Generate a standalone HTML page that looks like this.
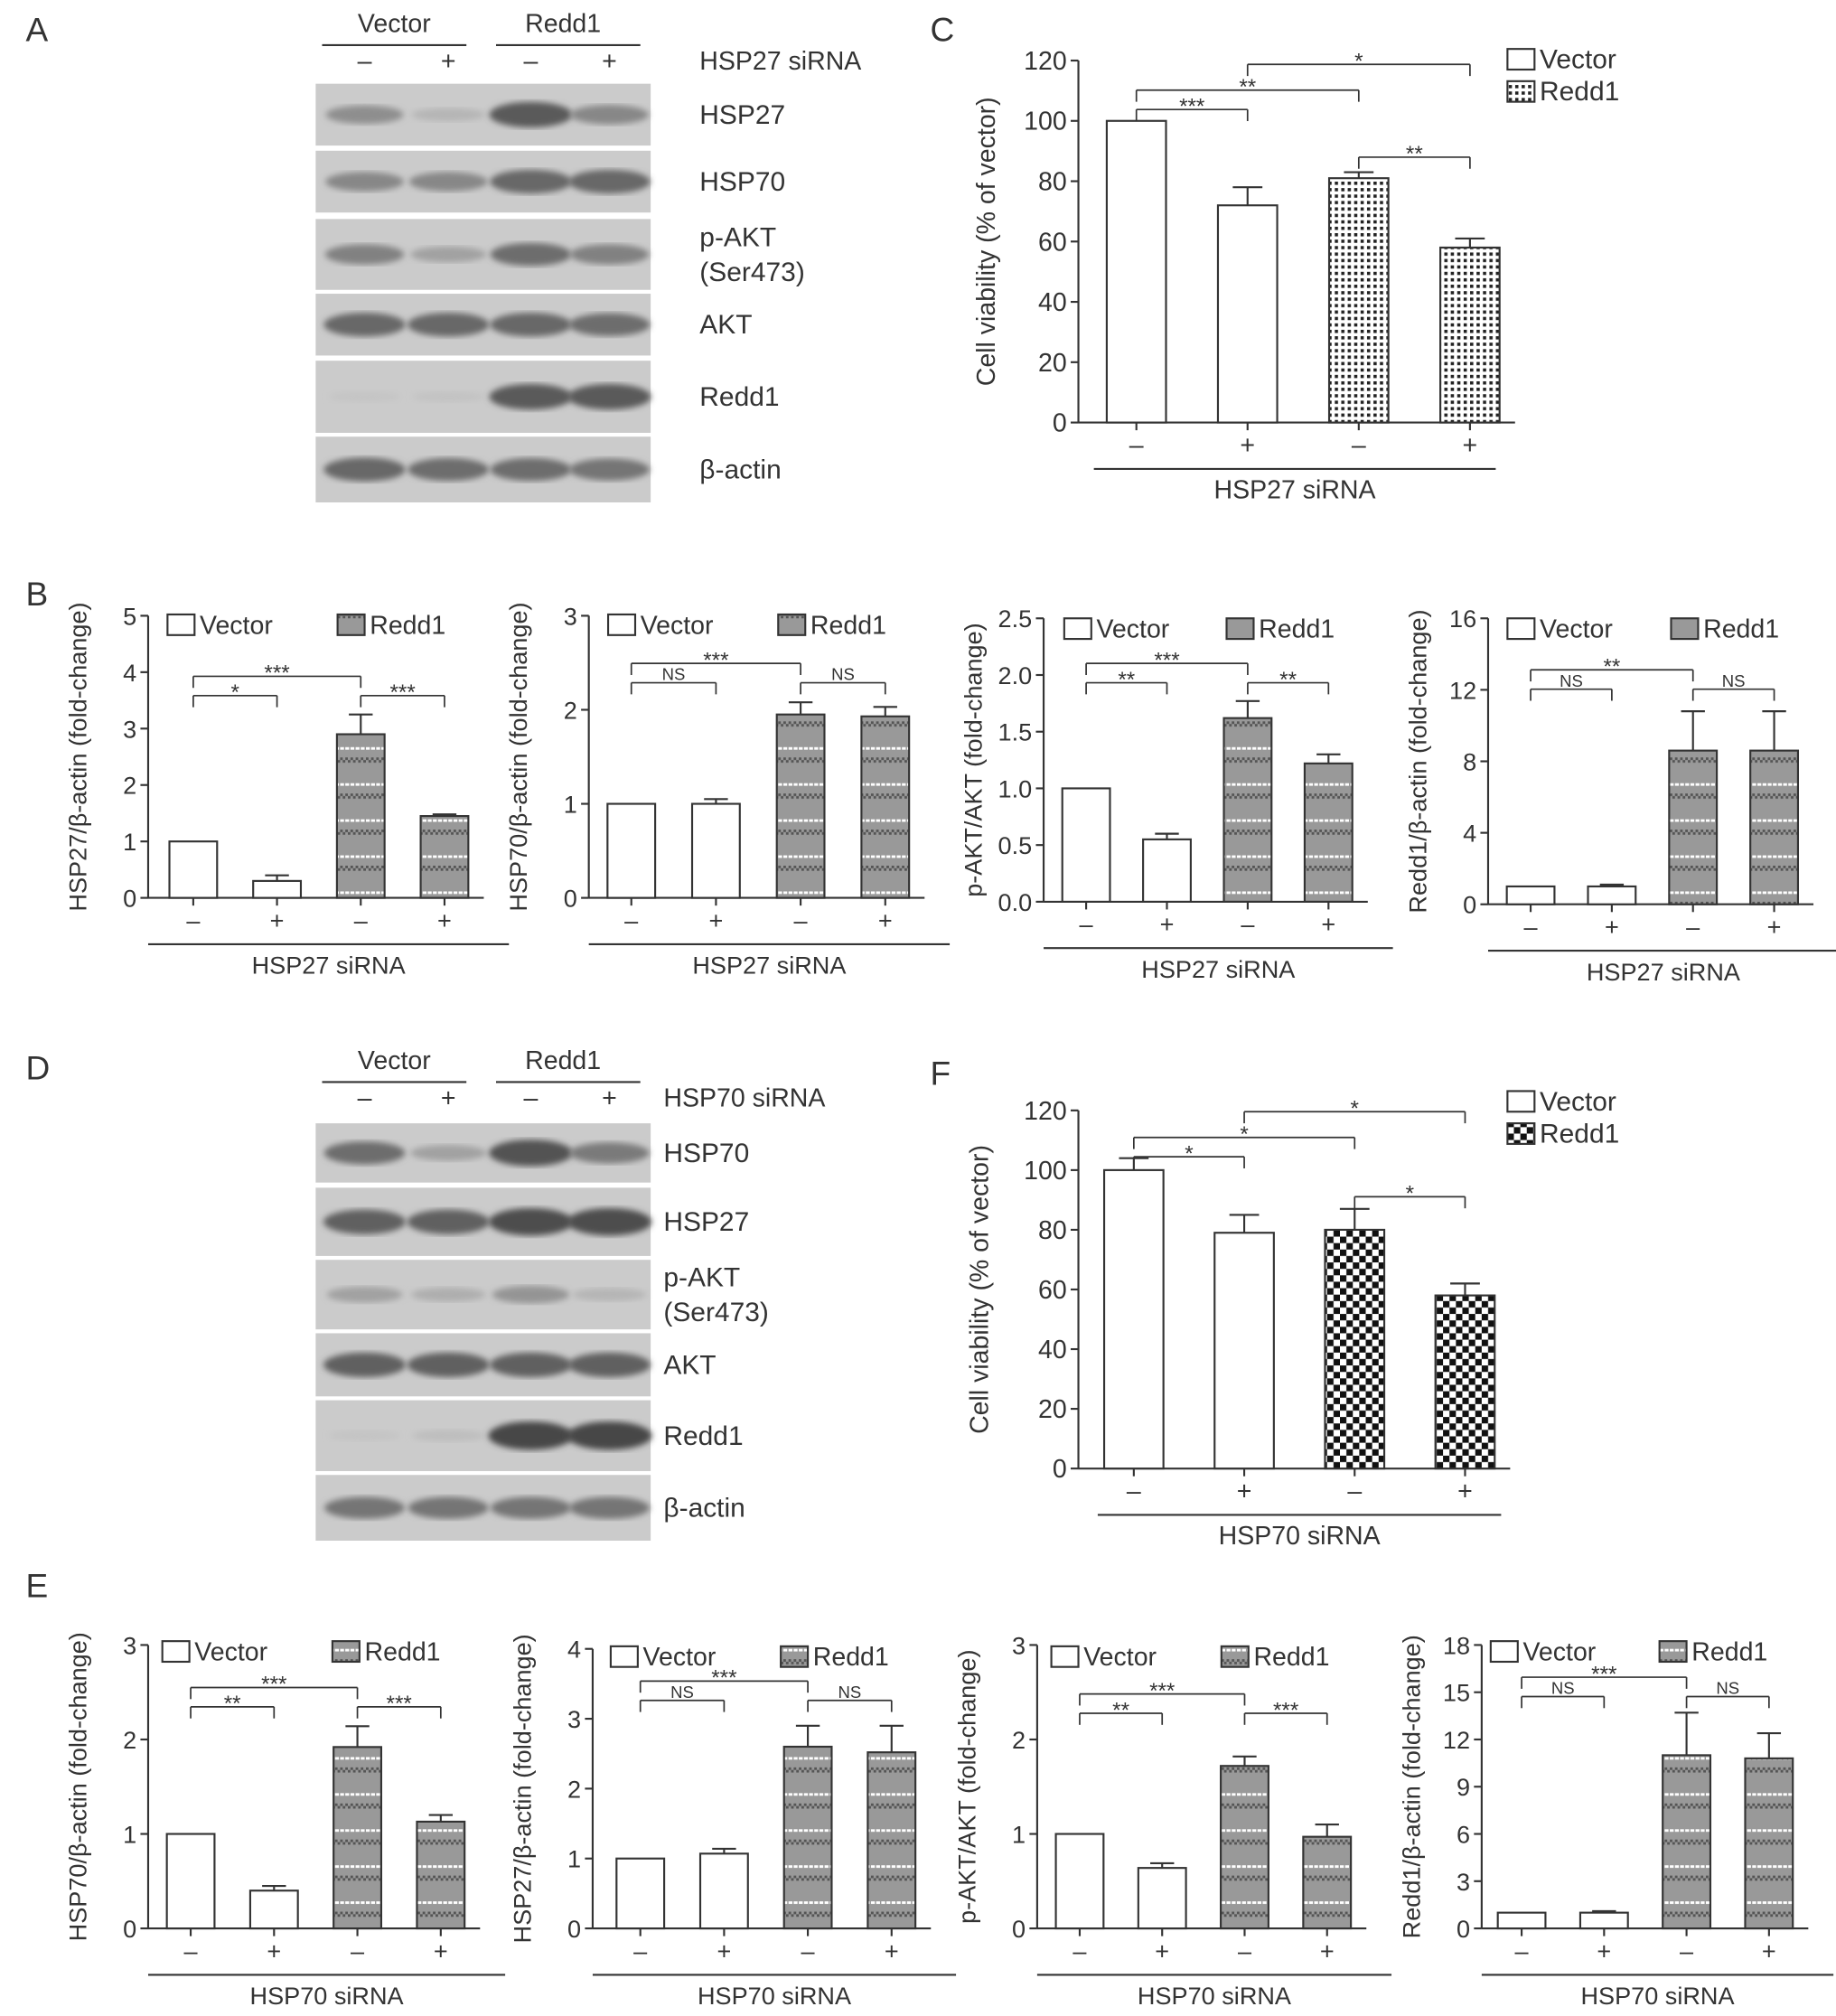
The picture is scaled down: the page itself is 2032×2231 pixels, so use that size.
<!DOCTYPE html>
<html><head><meta charset="utf-8"><style>
html,body{margin:0;padding:0;background:#fff}
svg{display:block}
text{font-family:"Liberation Sans",sans-serif;fill:#333}
</style></head><body>
<svg id="fig" width="2032" height="2231" viewBox="0 0 1425 1565" preserveAspectRatio="none" xmlns="http://www.w3.org/2000/svg">
<defs>
<pattern id="chk" width="5" height="5" patternUnits="userSpaceOnUse"><rect width="5" height="5" fill="#fff"/><rect x="1" y="1" width="2.5" height="2.5" fill="#222"/></pattern>
<pattern id="chk2" width="10" height="10" patternUnits="userSpaceOnUse"><rect width="10" height="10" fill="#fff"/><rect width="5" height="5" fill="#111"/><rect x="5" y="5" width="5" height="5" fill="#111"/></pattern>
<pattern id="dots" width="4" height="28" patternUnits="userSpaceOnUse"><rect width="4" height="28" fill="#999"/><rect width="2" height="2" fill="#555"/><rect x="2" y="2" width="2" height="2" fill="#555"/><rect x="0" y="20" width="3" height="2" fill="#fff"/></pattern>
<filter id="blur"><feGaussianBlur stdDeviation="2.5"/></filter>
</defs>
<g id="root"></g>
</svg>
<script>
// ---- data ----
const groups = ["Vector-", "Vector+", "Redd1-", "Redd1+"];
const cVals = [100, 72, 81, 58];
const cErr = [0, 6, 2, 3];
const fVals = [100, 79, 80, 58];
const fErr = [4, 6, 7, 4];
const b1Vals = [1, 0.3, 2.9, 1.45]; const b1Err = [0, 0.1, 0.35, 0.03];
const b2Vals = [1, 1, 1.95, 1.93]; const b2Err = [0, 0.05, 0.13, 0.1];
const b3Vals = [1, 0.55, 1.62, 1.22]; const b3Err = [0, 0.05, 0.15, 0.08];
const b4Vals = [1, 1, 8.6, 8.6]; const b4Err = [0, 0.1, 2.2, 2.2];
const e1Vals = [1, 0.4, 1.92, 1.13]; const e1Err = [0, 0.05, 0.22, 0.07];
const e2Vals = [1, 1.07, 2.6, 2.52]; const e2Err = [0, 0.07, 0.3, 0.38];
const e3Vals = [1, 0.64, 1.72, 0.97]; const e3Err = [0, 0.05, 0.1, 0.13];
const e4Vals = [1, 1, 11, 10.8]; const e4Err = [0, 0.1, 2.7, 1.6];
const cTicks = [0,20,40,60,80,100,120];
const b1Ticks=[0,1,2,3,4,5], b2Ticks=[0,1,2,3], b3Ticks=["0.0","0.5","1.0","1.5","2.0","2.5"], b4Ticks=[0,4,8,12,16];
const e1Ticks=[0,1,2,3], e2Ticks=[0,1,2,3,4], e3Ticks=[0,1,2,3], e4Ticks=[0,3,6,9,12,15,18];
const blotA = ["HSP27","HSP70","p-AKT|(Ser473)","AKT","Redd1","β-actin"];
const blotAInt = [[0.45,0.15,0.85,0.5],[0.5,0.5,0.75,0.75],[0.55,0.3,0.7,0.55],[0.75,0.75,0.75,0.7],[0.02,0.04,0.85,0.85],[0.75,0.7,0.7,0.65]];
const blotD = ["HSP70","HSP27","p-AKT|(Ser473)","AKT","Redd1","β-actin"];
const blotDInt = [[0.7,0.3,0.9,0.6],[0.8,0.8,0.95,0.95],[0.3,0.2,0.4,0.15],[0.8,0.8,0.8,0.8],[0.03,0.08,1,1],[0.65,0.65,0.65,0.65]];

const NS="http://www.w3.org/2000/svg";
const root=document.getElementById('root');
function el(tag,attrs,parent,txt){const e=document.createElementNS(NS,tag);for(const k in attrs)e.setAttribute(k,attrs[k]);if(txt!==undefined)e.textContent=txt;(parent||root).appendChild(e);return e;}
function line(x1,y1,x2,y2,p,w){return el('line',{x1,y1,x2,y2,stroke:'#333','stroke-width':w||1.5},p);}

[["A",20,32],["B",20,470],["C",722,32],["D",20,838],["E",20,1240],["F",722,842]].forEach(l=>{
  const t=el('text',{x:l[1],y:l[2],'font-size':26},root,l[0]);
  
  
});

function chart(o){
  const g=el('g',{});
  
  
  const maxV=parseFloat(o.ticks[o.ticks.length-1]);
  const y=v=>o.y0-(v/maxV)*(o.y0-o.yTop);
  const x=i=>o.x0+o.first+i*o.step;
  line(o.x0,o.yTop,o.x0,o.y0,g);
  line(o.x0,o.y0,x(3)+o.bw/2+12,o.y0,g);
  o.ticks.forEach(t=>{const yy=y(parseFloat(t));line(o.x0-6,yy,o.x0,yy,g);
    const tx=el('text',{x:o.x0-9,y:yy+7,'font-size':o.fs,'text-anchor':'end'},g,t);
    });
  const yl=el('text',{transform:`translate(${o.x0-o.ylOff},${(o.y0+o.yTop)/2}) rotate(-90)`,'font-size':o.fs,'text-anchor':'middle'},g,o.ylabel);
  
  o.vals.forEach((v,i)=>{
    const cx=x(i);
    const r=el('rect',{x:cx-o.bw/2,y:y(v),width:o.bw,height:o.y0-y(v),fill:i<2?'#fff':o.pat,stroke:'#333','stroke-width':1.5},g);
    
    
    if(o.err[i]>0){line(cx,y(v),cx,y(v+o.err[i]),g);line(cx-o.bw/4,y(v+o.err[i]),cx+o.bw/4,y(v+o.err[i]),g);}
    line(cx,o.y0,cx,o.y0+6,g);
    const s=el('text',{x:cx,y:o.y0+24,'font-size':o.fs,'text-anchor':'middle'},g,i%2?'+':'–');
    
  });
  const lx1=o.x0+(o.lineOff||0), lx2=x(3)+(o.lineExt!==undefined?o.lineExt:o.bw/2+18);
  line(lx1,o.y0+36,lx2,o.y0+36,g);
  const xt=el('text',{x:(lx1+lx2)/2,y:o.y0+59,'font-size':o.fs,'text-anchor':'middle'},g,o.xlabel);
  
  const L=o.legend;
  const lg=el('g',{},g);
  el('rect',{x:L[0],y:L[1]-15,width:21,height:16,fill:'#fff',stroke:'#333','stroke-width':1.5},lg);
  el('text',{x:L[0]+25,y:L[1],'font-size':o.fs+1},lg,'Vector');
  el('rect',{x:L[2],y:L[3]-15,width:21,height:16,fill:o.pat,stroke:'#333','stroke-width':1.5},lg);
  el('text',{x:L[2]+25,y:L[3],'font-size':o.fs+1},lg,'Redd1');
  o.br.forEach(b=>{
    const bg=el('g',{},g);
    const x1=x(b[0]),x2=x(b[1]);
    line(x1,b[2],x2,b[2],bg,1.2);line(x1,b[2],x1,b[2]+9,bg,1.2);line(x2,b[2],x2,b[2]+9,bg,1.2);
    el('text',{x:(x1+x2)/2,y:b[2]-(b[3]=='NS'?2:-3),'font-size':b[3]=='NS'?13:17,'text-anchor':'middle'},bg,b[3]);
  });
}

chart({name:'chart-c-cell-viability',x0:837,yTop:47,y0:328,first:45,step:86.3,bw:46,lineOff:12,lineExt:20,vals:cVals,err:cErr,ticks:cTicks,fs:20,ylOff:65,ylabel:'Cell viability (% of vector)',xlabel:'HSP27 siRNA',pat:'url(#chk)',legend:[1170,53,1170,78],
 br:[[0,1,85,'***'],[0,2,70,'**'],[1,3,50,'*'],[2,3,122,'**']]});
chart({name:'chart-f-cell-viability',x0:837,yTop:862,y0:1140,first:43,step:85.7,bw:46,lineOff:15,lineExt:28,vals:fVals,err:fErr,ticks:cTicks,fs:20,ylOff:70,ylabel:'Cell viability (% of vector)',xlabel:'HSP70 siRNA',pat:'url(#chk2)',legend:[1170,862,1170,887],
 br:[[0,1,898,'*'],[0,2,883,'*'],[1,3,863,'*'],[2,3,929,'*']]});

const bc=[
 {name:'chart-b-hsp27',x0:115,yTop:478,y0:697,first:35,step:65,vals:b1Vals,err:b1Err,ticks:b1Ticks,ylabel:'HSP27/β-actin (fold-change)',xlabel:'HSP27 siRNA',legend:[130,492,262,492],br:[[0,1,540,'*'],[0,2,525,'***'],[2,3,540,'***']]},
 {name:'chart-b-hsp70',x0:457,yTop:478,y0:697,first:33,step:65.7,vals:b2Vals,err:b2Err,ticks:b2Ticks,ylabel:'HSP70/β-actin (fold-change)',xlabel:'HSP27 siRNA',legend:[472,492,604,492],br:[[0,1,530,'NS'],[0,2,515,'***'],[2,3,530,'NS']]},
 {name:'chart-b-pakt',x0:810,yTop:480,y0:700,first:33,step:62.7,vals:b3Vals,err:b3Err,ticks:b3Ticks,ylabel:'p-AKT/AKT (fold-change)',xlabel:'HSP27 siRNA',legend:[826,495,952,495],br:[[0,1,530,'**'],[0,2,515,'***'],[2,3,530,'**']]},
 {name:'chart-b-redd1',x0:1155,yTop:480,y0:702,first:33,step:63,vals:b4Vals,err:b4Err,ticks:b4Ticks,ylabel:'Redd1/β-actin (fold-change)',xlabel:'HSP27 siRNA',legend:[1170,495,1297,495],br:[[0,1,535,'NS'],[0,2,520,'**'],[2,3,535,'NS']]},
 {name:'chart-e-hsp70',x0:115,yTop:1277,y0:1497,first:33,step:64.7,vals:e1Vals,err:e1Err,ticks:e1Ticks,ylabel:'HSP70/β-actin (fold-change)',xlabel:'HSP70 siRNA',legend:[126,1289,258,1289],br:[[0,1,1325,'**'],[0,2,1310,'***'],[2,3,1325,'***']]},
 {name:'chart-e-hsp27',x0:460,yTop:1280,y0:1497,first:37,step:65,vals:e2Vals,err:e2Err,ticks:e2Ticks,ylabel:'HSP27/β-actin (fold-change)',xlabel:'HSP70 siRNA',legend:[474,1293,606,1293],br:[[0,1,1320,'NS'],[0,2,1305,'***'],[2,3,1320,'NS']]},
 {name:'chart-e-pakt',x0:805,yTop:1277,y0:1497,first:33,step:64,vals:e3Vals,err:e3Err,ticks:e3Ticks,ylabel:'p-AKT/AKT (fold-change)',xlabel:'HSP70 siRNA',legend:[816,1293,948,1293],br:[[0,1,1330,'**'],[0,2,1315,'***'],[2,3,1330,'***']]},
 {name:'chart-e-redd1',x0:1150,yTop:1277,y0:1497,first:31,step:64,vals:e4Vals,err:e4Err,ticks:e4Ticks,ylabel:'Redd1/β-actin (fold-change)',xlabel:'HSP70 siRNA',legend:[1157,1289,1288,1289],br:[[0,1,1317,'NS'],[0,2,1302,'***'],[2,3,1317,'NS']]}
];
bc.forEach(o=>{o.bw=37;o.fs=19;o.ylOff=48;o.lineExt=50;o.pat='url(#dots)';chart(o);});

function blot(o){
  const g=el('g',{});
  
  
  const lanes=[283,348,412,473];
  el('text',{x:306,y:o.hy,'font-size':20,'text-anchor':'middle'},g,'Vector');
  el('text',{x:437,y:o.hy,'font-size':20,'text-anchor':'middle'},g,'Redd1');
  line(250,o.hy+10,362,o.hy+10,g);line(385,o.hy+10,497,o.hy+10,g);
  lanes.forEach((lx,i)=>el('text',{x:lx,y:o.hy+29,'font-size':20,'text-anchor':'middle'},g,i%2?'+':'–'));
  el('text',{x:o.lx,y:o.hy+29,'font-size':20},g,o.si);
  o.rows.forEach((r,ri)=>{
    const [y1,y2]=r;
    const rg=el('g',{},g);
    
    
    el('rect',{x:245,y:y1,width:260,height:y2-y1,fill:'#cbcbcb'},rg);
    const cy=(y1+y2)/2;
    o.ints[ri].forEach((v,i)=>{const c=Math.round(200-130*v);
      el('ellipse',{cx:lanes[i],cy,rx:28+5*v,ry:4+7*v,fill:`rgb(${c},${c},${c})`,filter:'url(#blur)'},rg);});
    const parts=o.labels[ri].split('|');
    parts.forEach((p,pi)=>el('text',{x:o.lx,y:cy+7+(parts.length>1?(pi-0.5)*27:0),'font-size':21},rg,p));
  });
}
blot({name:'western-blot-a',hy:25,lx:543,si:'HSP27 siRNA',labels:blotA,ints:blotAInt,rows:[[65,113],[117,165],[170,225],[228,276],[280,336],[339,390]]});
blot({name:'western-blot-d',hy:830,lx:515,si:'HSP70 siRNA',labels:blotD,ints:blotDInt,rows:[[872,918],[922,975],[978,1032],[1035,1084],[1087,1142],[1145,1196]]});
</script>
</body></html>
